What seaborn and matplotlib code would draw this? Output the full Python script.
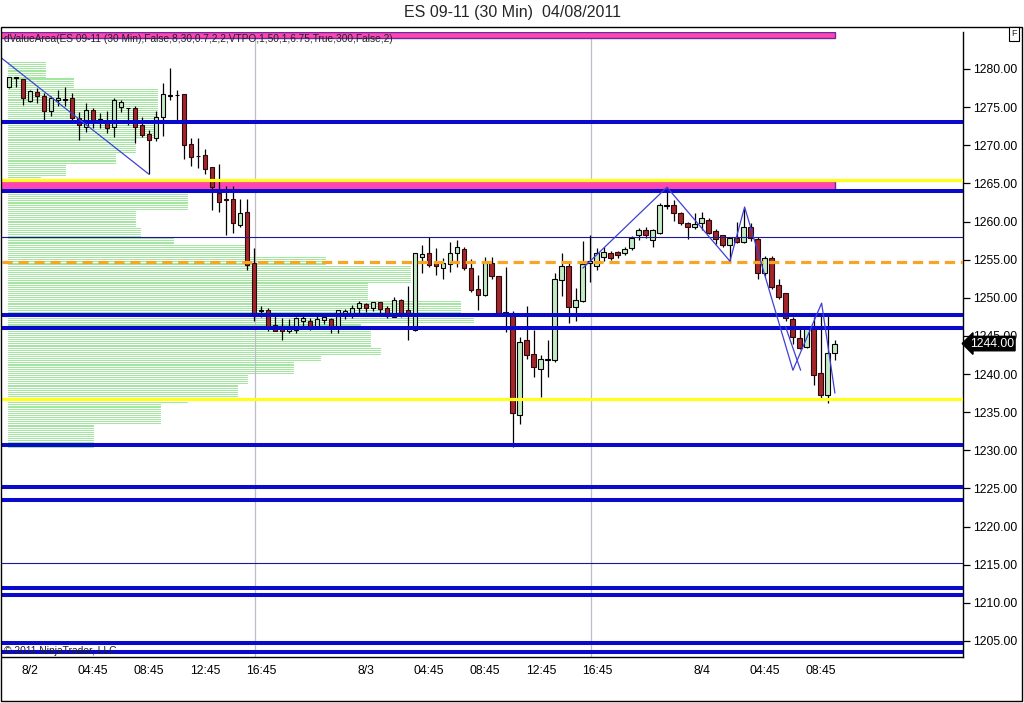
import numpy as np
import seaborn as sns
import matplotlib
matplotlib.use("Agg")
import matplotlib.pyplot as plt
import matplotlib.transforms as mtransforms
from matplotlib.patches import Rectangle

# --- 30 min bars (ES 09-11) ---
opens = [1277.7, 1278.85, 1278.65, 1275.85, 1277.0, 1276.45, 1274.55, 1275.9, 1275.95, 1276.15,
         1273.55, 1272.35, 1274.6, 1273.1, 1273.0, 1272.35, 1275.05, 1274.85, 1274.85, 1272.65,
         1271.5, 1270.9, 1273.65, 1276.5, 1276.55, 1276.7, 1270.15, 1268.6, 1268.7, 1267.1,
         1263.7, 1262.85, 1262.9, 1259.55, 1261.3, 1254.5, 1248.3, 1248.4, 1246.4, 1246.35,
         1245.7, 1245.8, 1246.9, 1247.0, 1246.2, 1247.1, 1247.2, 1246.0, 1248.0, 1248.0,
         1248.6, 1249.2, 1248.6, 1249.5, 1248.6, 1247.45, 1249.7, 1248.4, 1245.8, 1255.4,
         1255.85, 1254.75, 1253.9, 1254.45, 1255.85, 1256.35, 1253.9, 1251.1, 1250.4, 1254.55,
         1252.8, 1248.1, 1248.05, 1234.6, 1244.45, 1242.6, 1240.65, 1241.9, 1241.8, 1252.3,
         1254.2, 1248.75, 1249.6, 1254.5, 1254.2, 1255.4, 1255.85, 1256.05, 1255.85, 1256.5,
         1258.2, 1258.9, 1257.6, 1258.55, 1262.1, 1262.2, 1261.1, 1259.85, 1259.25, 1259.85,
         1260.2, 1258.7, 1258.2, 1256.9, 1257.9, 1257.35, 1259.3, 1257.7, 1253.3, 1255.2,
         1251.7, 1250.6, 1247.2, 1244.7, 1243.6, 1246.3, 1240.2, 1237.3, 1242.8]
highs = [1279.0, 1278.9, 1278.7, 1277.2, 1277.5, 1276.9, 1276.4, 1277.2, 1277.6, 1276.9,
         1274.4, 1275.6, 1274.85, 1274.2, 1274.5, 1276.15, 1275.95, 1274.9, 1275.15, 1273.75,
         1272.0, 1274.5, 1278.1, 1280.1, 1277.25, 1276.7, 1270.9, 1270.9, 1269.5, 1267.1,
         1267.6, 1264.6, 1264.65, 1262.9, 1262.9, 1256.5, 1248.9, 1248.6, 1247.6, 1247.3,
         1247.2, 1247.45, 1247.6, 1247.3, 1248.05, 1248.0, 1247.3, 1248.4, 1248.5, 1249.0,
         1249.6, 1249.3, 1249.5, 1249.5, 1248.9, 1250.1, 1249.9, 1251.5, 1255.85, 1256.9,
         1258.0, 1256.5, 1255.2, 1257.35, 1257.6, 1256.7, 1255.05, 1253.0, 1255.4, 1255.4,
         1252.8, 1254.1, 1248.3, 1244.9, 1248.9, 1245.8, 1242.5, 1244.45, 1253.2, 1255.85,
         1254.55, 1251.25, 1257.5, 1258.2, 1256.5, 1256.6, 1256.2, 1256.2, 1256.6, 1258.1,
         1259.1, 1259.3, 1259.0, 1262.4, 1264.5, 1262.8, 1261.3, 1259.9, 1261.1, 1261.3,
         1260.4, 1259.0, 1258.2, 1258.0, 1260.0, 1261.7, 1259.8, 1257.95, 1255.5, 1255.5,
         1252.4, 1250.6, 1247.45, 1246.2, 1246.3, 1247.5, 1248.0, 1247.75, 1244.45]
lows = [1277.5, 1277.7, 1275.3, 1275.7, 1275.6, 1273.2, 1273.9, 1275.1, 1275.1, 1273.1,
        1270.7, 1271.8, 1272.2, 1272.2, 1271.6, 1271.1, 1274.4, 1272.65, 1270.35, 1271.05,
        1266.2, 1270.6, 1271.2, 1275.9, 1273.2, 1268.15, 1267.3, 1267.0, 1266.2, 1261.5,
        1261.3, 1258.2, 1258.55, 1259.3, 1253.65, 1246.9, 1247.5, 1245.6, 1245.6, 1244.5,
        1245.35, 1245.35, 1246.3, 1245.8, 1245.9, 1246.6, 1245.35, 1245.35, 1247.2, 1247.4,
        1248.0, 1248.2, 1248.3, 1248.0, 1247.3, 1247.45, 1247.5, 1244.5, 1245.6, 1253.2,
        1254.1, 1253.0, 1252.4, 1253.4, 1254.1, 1253.7, 1250.8, 1248.4, 1250.2, 1252.4,
        1247.8, 1245.55, 1230.5, 1233.45, 1241.95, 1239.6, 1237.0, 1239.6, 1241.6, 1250.2,
        1246.65, 1246.9, 1249.5, 1252.1, 1253.65, 1254.8, 1255.0, 1255.2, 1255.6, 1256.3,
        1257.6, 1257.8, 1256.7, 1258.3, 1261.6, 1260.1, 1259.6, 1257.7, 1259.0, 1258.9,
        1258.3, 1257.05, 1256.7, 1254.75, 1257.2, 1257.2, 1257.5, 1252.4, 1252.8, 1251.1,
        1249.8, 1247.0, 1244.0, 1243.25, 1243.4, 1238.6, 1236.8, 1236.2, 1241.85]
closes = [1278.9, 1278.9, 1276.15, 1277.1, 1276.4, 1274.55, 1276.15, 1276.2, 1276.0, 1273.55,
          1272.65, 1274.6, 1273.1, 1273.4, 1272.3, 1275.95, 1275.7, 1274.9, 1272.35, 1271.35,
          1270.7, 1273.65, 1276.7, 1276.6, 1276.6, 1270.0, 1268.4, 1268.55, 1266.85, 1264.5,
          1262.6, 1262.8, 1259.8, 1261.1, 1254.3, 1247.6, 1248.35, 1246.2, 1245.7, 1245.65,
          1246.0, 1247.3, 1247.3, 1246.3, 1247.2, 1247.5, 1246.0, 1248.4, 1248.3, 1248.6,
          1249.3, 1248.6, 1249.5, 1248.5, 1247.6, 1249.7, 1248.0, 1248.0, 1255.85, 1255.8,
          1254.3, 1254.2, 1254.55, 1255.85, 1256.7, 1253.9, 1251.0, 1250.4, 1254.5, 1252.9,
          1248.0, 1248.05, 1234.85, 1244.25, 1242.5, 1240.9, 1241.95, 1241.95, 1252.4, 1254.2,
          1248.85, 1249.7, 1254.45, 1254.8, 1255.85, 1256.05, 1255.2, 1255.6, 1256.35, 1257.8,
          1258.9, 1258.2, 1258.9, 1262.2, 1262.2, 1261.1, 1259.85, 1259.3, 1259.7, 1260.4,
          1258.55, 1257.7, 1256.9, 1257.8, 1257.35, 1259.3, 1257.8, 1253.3, 1255.2, 1251.4,
          1250.15, 1247.3, 1244.9, 1243.4, 1246.0, 1239.9, 1237.3, 1242.8, 1244.0]

# x axis labels (bar index)
tick_bars = [0, 3, 4, 12, 20, 28, 36, 44, 51, 52, 60, 68, 76, 84, 92, 99, 100, 108, 116]
tick_labels = ['', '8/2', '', '04:45', '08:45', '12:45', '16:45', '', '8/3', '', '04:45',
               '08:45', '12:45', '16:45', '', '8/4', '', '04:45', '08:45']
session_breaks = [35.15, 83.15]
y_ticks = [1205, 1210, 1215, 1220, 1225, 1230, 1235, 1240, 1245, 1250, 1255, 1260, 1265, 1270, 1275, 1280]

# levels
blue_levels = [1273.0, 1264.0, 1247.75, 1246.0, 1230.75, 1225.25, 1223.5, 1212.0, 1211.0, 1204.75, 1203.5]
yellow_levels = [1265.5, 1236.75]
navy_levels = [1258.0, 1215.25]
poc_level = 1254.75
band_low = [1284.05, 1264.0]
band_high = [1284.9, 1265.45]
band_end = 118
last_price = 1244.0

# volume profile (price bins, length in bars)
prof_top = [1281.0, 1278.8, 1277.5, 1271.0, 1269.0, 1267.5, 1266.0, 1265.5, 1263.75, 1261.5,
            1259.25, 1258.0, 1257.0, 1255.5, 1254.25, 1252.0, 1249.75, 1248.0, 1246.75, 1245.75,
            1243.5, 1242.5, 1241.75, 1240.0, 1238.75, 1237.0, 1236.25, 1233.5]
prof_bot = [1278.8, 1277.5, 1271.0, 1269.0, 1267.5, 1266.0, 1265.5, 1263.75, 1261.5, 1259.25,
            1258.0, 1257.0, 1255.5, 1254.25, 1252.0, 1249.75, 1248.0, 1246.75, 1245.75, 1243.5,
            1242.5, 1241.75, 1240.0, 1238.75, 1237.0, 1236.25, 1233.5, 1230.25]
prof_len = [5.3, 9.3, 21.3, 18.1, 15.3, 8.1, 4.6, 17.9, 25.6, 18.1,
            18.9, 23.6, 34.1, 45.3, 57.4, 51.3, 64.6, 66.4, 50.3, 51.7,
            53.1, 44.6, 40.7, 34.1, 32.7, 25.6, 21.7, 12.1]

# zigzag swings
zz1_x = [-1.3, 20.0]
zz1_y = [1281.6, 1266.2]
zz2_x = [82.0, 94.0, 103.0, 105.1, 112.0, 116.1, 118.0]
zz2_y = [1253.9, 1264.5, 1254.8, 1261.9, 1240.5, 1249.3, 1237.5]
zz3_x = [110.95, 113.1]
zz3_y = [1246.2, 1240.5]

sns.set_style("white")
plt.rcParams['font.family'] = ['Liberation Sans', 'DejaVu Sans']

fig = plt.figure(figsize=(10.24, 7.03), dpi=100)
ax = fig.add_axes([2 / 1024, 46 / 703, 961 / 1024, 625 / 703])

# profile: one thin line per tick
for top, bot, ln in zip(prof_top, prof_bot, prof_len):
    lv = np.arange(bot, top, 0.25) + 0.125
    ax.hlines(lv, -0.15, -0.15 + ln, color='#A3E6A0', lw=0.45, antialiased=False, zorder=1)

for xb in session_breaks:
    ax.axvline(xb, color='#BDBDC8', lw=0.9, zorder=1)

# value area bands
for lo, hi in zip(band_low, band_high):
    ax.add_patch(Rectangle((-5, lo), band_end + 5, hi - lo, facecolor='#FF45B2',
                           edgecolor='#6B2AA0', lw=1.0, zorder=2))

# candles
idx = np.arange(len(opens))
o = np.array(opens); h = np.array(highs); l = np.array(lows); c = np.array(closes)
up = c >= o
ax.vlines(idx, l, h, color='black', lw=0.9, zorder=3)
body_bot = np.minimum(o, c)
body_h = np.maximum(np.abs(c - o), 0.1)
ax.bar(idx[up], body_h[up], bottom=body_bot[up], width=0.7, color='#C4ECC4',
       edgecolor='black', linewidth=0.8, zorder=4)
ax.bar(idx[~up], body_h[~up], bottom=body_bot[~up], width=0.7, color='#A3262A',
       edgecolor='#2a0a0a', linewidth=0.8, zorder=4)

# horizontal levels
for y in blue_levels:
    ax.axhline(y, color='#0A0ACC', lw=2.9, zorder=5)
for y in yellow_levels:
    ax.axhline(y, color='#FFFF1A', lw=2.3, zorder=5)
for y in navy_levels:
    ax.axhline(y, color='#1A1A90', lw=0.8, zorder=5)
ax.axhline(poc_level, color='#F5A623', lw=2.3, dashes=(3.2, 1.8), zorder=5)

# zigzags
for zx, zy in [(zz1_x, zz1_y), (zz2_x, zz2_y), (zz3_x, zz3_y)]:
    sns.lineplot(x=zx, y=zy, sort=False, color='#3F3FD8', lw=0.9, ax=ax, zorder=6)

ax.set_xlim(-1.0, 136.3)
ax.set_ylim(1202.9, 1284.85)
ax.set_xticks(tick_bars)
ax.set_xticklabels(tick_labels)
ax.set_yticks(y_ticks)
ax.set_yticklabels([f'{v:.2f}' for v in y_ticks])
ax.yaxis.tick_right()
ax.tick_params(axis='x', direction='out', length=4, width=0.9, pad=2, labelsize=8.8, colors='black')
ax.tick_params(axis='y', direction='out', length=5, width=0.9, pad=2, labelsize=8.8, colors='black')
for s in ['left', 'top']:
    ax.spines[s].set_visible(False)
for s in ['right', 'bottom']:
    ax.spines[s].set_color('black')
    ax.spines[s].set_linewidth(1.0)
ax.set_xlabel('')
ax.set_ylabel('')
ax.grid(False)

# last price marker (covers the 1245.00 label, as in the platform)
tr = mtransforms.blended_transform_factory(ax.transAxes, ax.transData)
ax.text(1.007, last_price, f'{last_price:.2f}', transform=tr, ha='left', va='center',
        color='white', fontsize=8.8, zorder=10, clip_on=False,
        bbox=dict(boxstyle='larrow,pad=0.1', fc='black', ec='black'))

# texts
fig.text(0.5, 1 - 13 / 703, 'ES 09-11 (30 Min)  04/08/2011', ha='center', va='center', fontsize=11.5)
fig.text(4 / 1024, 1 - 39 / 703,
         'dValueArea(ES 09-11 (30 Min),False,8,30,0.7,2,2,VTPO,1,50,1,6.75,True,300,False,2)',
         ha='left', va='center', fontsize=7.3, color='#222222', zorder=20)
fig.text(4 / 1024, 1 - 651 / 703, '\u00a9 2011 NinjaTrader, LLC', ha='left', va='center',
         fontsize=7.4, color='#222222', zorder=20)
fig.text(1014 / 1024, 1 - 34 / 703, 'F', ha='center', va='center', fontsize=6.5,
         bbox=dict(boxstyle='square,pad=0.25', fc='white', ec='black', lw=0.8))

fig.add_artist(Rectangle((0.5 / 1024, 2 / 703), 1021 / 1024, 674 / 703, fill=False,
                         ec='black', lw=1.0, transform=fig.transFigure))

fig.savefig('out.png', dpi=100)
